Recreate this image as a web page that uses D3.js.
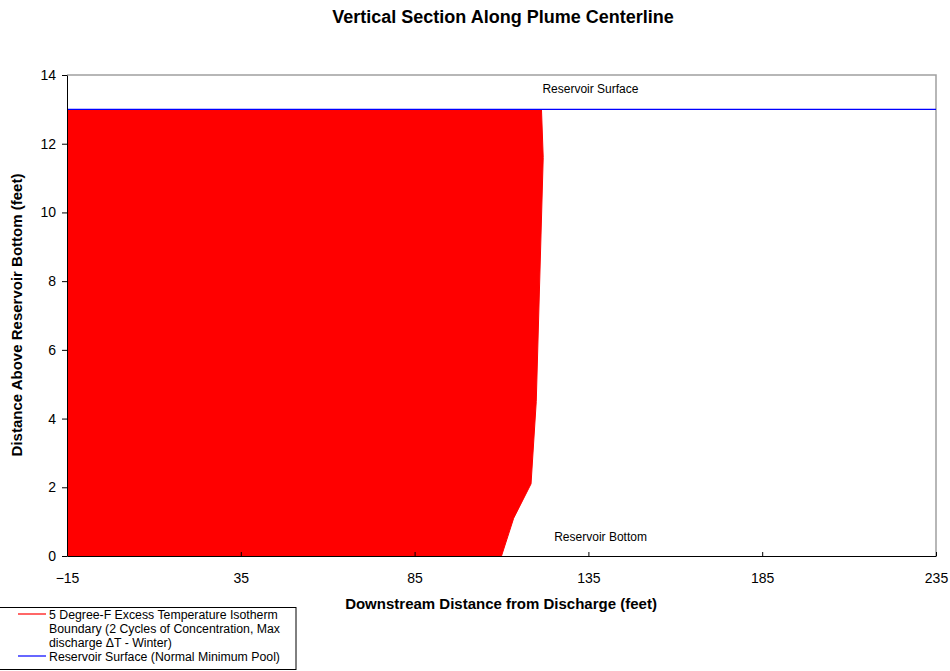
<!DOCTYPE html>
<html>
<head>
<meta charset="utf-8">
<script src="https://cdn.jsdelivr.net/npm/d3@7"></script>
<style>
  html, body { margin: 0; padding: 0; background: #fff; }
  svg { display: block; font-family: "Liberation Sans", Arial, sans-serif; }
</style>
</head>
<body>
<svg id="chart" width="950" height="671"></svg>
<script>
// Isotherm boundary: downstream distance (ft) at each height above the bottom (ft)
const boundaryDistance = [110, 113.5, 118.5, 120, 122, 121.5];
const boundaryHeight   = [0, 1.1, 2.1, 4.5, 11.6, 13];

// Reservoir surface (normal minimum pool)
const surfaceDistance = [-15, 235];
const surfaceHeight   = [13, 13];

// Axis ticks
const xTicks = [-15, 35, 85, 135, 185, 235];
const yTicks = [0, 2, 4, 6, 8, 10, 12, 14];

const legendLabels = [
  ["5 Degree-F Excess Temperature Isotherm", "Boundary (2 Cycles of Concentration, Max", "discharge \u0394T - Winter)"],
  ["Reservoir Surface (Normal Minimum Pool)"]
];

const svg = d3.select("#chart");
const plot = { left: 67, top: 75, right: 936, bottom: 556 };

const x = d3.scaleLinear().domain([-15, 235]).range([plot.left, plot.right]);
const y = d3.scaleLinear().domain([0, 14]).range([plot.bottom, plot.top]);

// Plot frame: gray top/right border
svg.append("path")
  .attr("d", `M${plot.left},${plot.top}H${plot.right}V${plot.bottom}`)
  .attr("fill", "none").attr("stroke", "#a0a0a0").attr("stroke-width", 1.5);

// Heated region bounded by the isotherm, extending back to the discharge edge
const boundary = boundaryDistance.map((d, i) => [d, boundaryHeight[i]]);
const poly = [[-15, 0], ...boundary, [-15, 13]];
svg.append("path")
  .attr("d", d3.line().x(d => x(d[0])).y(d => y(d[1]))(poly) + "Z")
  .attr("fill", "#ff0000").attr("stroke", "none");
svg.append("path")
  .attr("d", d3.line().x(d => x(d[0])).y(d => y(d[1]))(boundary))
  .attr("fill", "none").attr("stroke", "#ff0000").attr("stroke-width", 1);

// Reservoir surface line
const surface = surfaceDistance.map((d, i) => [d, surfaceHeight[i]]);
svg.append("path")
  .attr("d", d3.line().x(d => x(d[0])).y(d => y(d[1]))(surface))
  .attr("fill", "none").attr("stroke", "#0000ff").attr("stroke-width", 1.3);

// Axes
const axisFont = "Liberation Sans, Arial, sans-serif";
const xAxis = svg.append("g").attr("transform", `translate(0,${plot.bottom})`)
  .call(d3.axisBottom(x).tickValues(xTicks).tickSizeInner(-4).tickSizeOuter(0).tickPadding(17));
xAxis.select(".domain").attr("stroke", "#000");
xAxis.selectAll(".tick line").attr("stroke", "#000");
xAxis.selectAll("text").attr("font-size", 14).attr("fill", "#000").attr("font-family", axisFont);

const yAxis = svg.append("g").attr("transform", `translate(${plot.left},0)`)
  .call(d3.axisLeft(y).tickValues(yTicks).tickSizeInner(5).tickSizeOuter(0).tickPadding(6));
yAxis.select(".domain").attr("stroke", "#000");
yAxis.selectAll(".tick line").attr("stroke", "#000");
yAxis.selectAll("text").attr("font-size", 14).attr("fill", "#000").attr("font-family", axisFont);

// Titles
svg.append("text").attr("x", 503).attr("y", 23).attr("text-anchor", "middle")
  .attr("font-size", 18).attr("font-weight", "bold").text("Vertical Section Along Plume Centerline");
svg.append("text").attr("x", 501).attr("y", 609).attr("text-anchor", "middle")
  .attr("font-size", 15).attr("font-weight", "bold").text("Downstream Distance from Discharge (feet)");
svg.append("text").attr("transform", "translate(22,315) rotate(-90)").attr("text-anchor", "middle")
  .attr("font-size", 15).attr("font-weight", "bold").text("Distance Above Reservoir Bottom (feet)");

// Annotations
svg.append("text").attr("x", x(135) + 2).attr("y", y(13) - 16).attr("text-anchor", "middle")
  .attr("font-size", 12).text("Reservoir Surface");
svg.append("text").attr("x", x(138.5)).attr("y", y(0) - 15).attr("text-anchor", "middle")
  .attr("font-size", 12).text("Reservoir Bottom");

// Legend
const lg = svg.append("g");
lg.append("rect").attr("x", -1).attr("y", 607.5).attr("width", 297).attr("height", 62)
  .attr("fill", "#fff").attr("stroke", "#000").attr("stroke-width", 1);
const legendColors = ["#ff0000", "#0000ff"];
const legendLineY = [614, 656];
legendLabels.forEach((lines, i) => {
  lg.append("line").attr("x1", 18).attr("x2", 46)
    .attr("y1", legendLineY[i]).attr("y2", legendLineY[i])
    .attr("stroke", legendColors[i]).attr("stroke-width", 1.2);
  lines.forEach((t, j) => {
    lg.append("text").attr("x", 49).attr("y", legendLineY[i] + 4.5 + j * 14)
      .attr("font-size", 12.3).text(t);
  });
});
</script>
</body>
</html>
